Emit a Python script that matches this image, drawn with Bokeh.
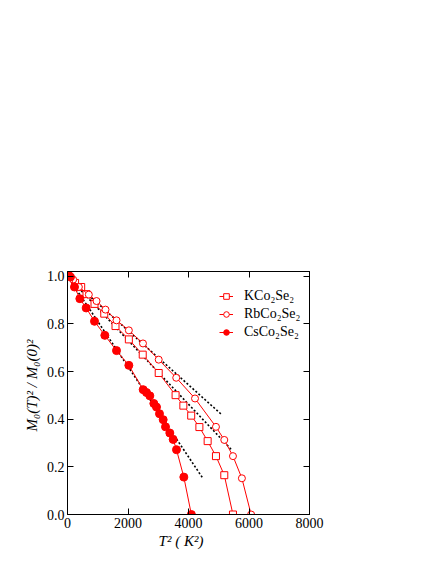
from bokeh.plotting import figure
from bokeh.models import LinearAxis, FixedTicker, Range1d, Legend, LegendItem
from bokeh.embed import file_html
from bokeh.resources import INLINE

# ---- data ----
k_x = [0, 250, 452, 628, 893, 1215, 1587, 2028, 2487, 3015, 3573, 3830, 4089, 4360, 4633, 4908, 5183, 5470]
k_y = [1.005, 0.972, 0.955, 0.925, 0.884, 0.843, 0.791, 0.735, 0.671, 0.594, 0.501, 0.457, 0.415, 0.367, 0.308, 0.245, 0.165, 0.0]

rb_x = [0, 187, 375, 705, 960, 1256, 1620, 2028, 2495, 3015, 3595, 4215, 4908, 5183, 5470, 5765, 6070]
rb_y = [1.0, 0.986, 0.955, 0.923, 0.896, 0.86, 0.815, 0.773, 0.718, 0.65, 0.574, 0.487, 0.368, 0.313, 0.245, 0.152, 0.0]

cs_x = [10, 99, 231, 408, 617, 893, 1234, 1620, 2028, 2502, 2612, 2722, 2854, 2942, 3041, 3163, 3240, 3383, 3493, 3603, 3846, 4095]
cs_y = [1.016, 0.997, 0.955, 0.906, 0.867, 0.811, 0.752, 0.688, 0.626, 0.524, 0.512, 0.498, 0.466, 0.451, 0.423, 0.398, 0.368, 0.342, 0.315, 0.272, 0.157, 0.0]

# linear T^2 fits (start, end)
fit_k_x = [0, 5444]
fit_k_y = [1.0, 0.269]
fit_rb_x = [0, 5091]
fit_rb_y = [1.0, 0.42]
fit_cs_x = [0, 4485]
fit_cs_y = [1.0, 0.150]

x_ticks = [0, 2000, 4000, 6000, 8000]
y_ticks = [0.0, 0.2, 0.4, 0.6, 0.8, 1.0]

labels = ["KCo\u2082Se\u2082", "RbCo\u2082Se\u2082", "CsCo\u2082Se\u2082"]

FONT = "Liberation Serif"

p = figure(frame_width=242, frame_height=243,
           min_border_left=67, min_border_top=271, min_border_bottom=42, min_border_right=110,
           x_range=Range1d(0, 8000), y_range=Range1d(0, 1.02),
           output_backend="svg", toolbar_location=None,
           x_axis_label="T\u00b2 ( K\u00b2)\u2003",
           y_axis_label="\u2003M\u2080(T)\u00b2 / M\u2080(0)\u00b2")

p.xgrid.visible = False
p.ygrid.visible = False
p.outline_line_color = "black"
p.outline_line_width = 1
p.background_fill_color = "white"
p.border_fill_color = "white"

def style_axis(ax, ticks, show_labels=True):
    ax.ticker = FixedTicker(ticks=ticks)
    ax.major_tick_in = 6
    ax.major_tick_out = 0
    ax.minor_tick_in = 0
    ax.minor_tick_out = 0
    ax.axis_line_color = "black"
    ax.major_tick_line_color = "black"
    ax.major_label_text_font = FONT
    ax.major_label_text_font_size = "14px"
    ax.major_label_text_color = "black"
    ax.axis_label_text_font = FONT
    ax.axis_label_text_font_size = "15px"
    ax.axis_label_text_font_style = "italic"
    ax.axis_label_text_color = "black"
    if not show_labels:
        ax.major_label_overrides = {t: "" for t in ticks}

xa = p.xaxis[0]
ya = p.yaxis[0]
style_axis(xa, x_ticks)
style_axis(ya, y_ticks)
xa.major_label_standoff = 3
xa.axis_label_standoff = 2
ya.major_label_standoff = 3
ya.axis_label_standoff = 4
ya.major_label_overrides = {t: f"{t:.1f}" for t in y_ticks}

top = LinearAxis()
style_axis(top, x_ticks, show_labels=False)
p.add_layout(top, "above")
right = LinearAxis()
style_axis(right, y_ticks, show_labels=False)
p.add_layout(right, "right")

red = "#ff0000"

# fit lines
for fx, fy in [(fit_k_x, fit_k_y), (fit_rb_x, fit_rb_y), (fit_cs_x, fit_cs_y)]:
    p.line(fx, fy, line_color="black", line_width=1.6, line_dash="2 2")

l1 = p.line(k_x, k_y, line_color=red, line_width=1)
m1 = p.scatter(k_x, k_y, marker="square", size=7, line_color=red, fill_color="white", line_width=1)
l2 = p.line(rb_x, rb_y, line_color=red, line_width=1)
m2 = p.scatter(rb_x, rb_y, marker="circle", size=7, line_color=red, fill_color="white", line_width=1)
l3 = p.line(cs_x, cs_y, line_color=red, line_width=1)
m3 = p.scatter(cs_x, cs_y, marker="circle", size=8, line_color=red, fill_color=red, line_width=1)

legend = Legend(items=[LegendItem(label=labels[0], renderers=[l1, m1]),
                       LegendItem(label=labels[1], renderers=[l2, m2]),
                       LegendItem(label=labels[2], renderers=[l3, m3])],
                location=(152, 173))
legend.padding = 0
legend.margin = 0
legend.spacing = 0
legend.glyph_width = 14
legend.glyph_height = 18
legend.label_height = 18
legend.label_standoff = 11
legend.border_line_color = None
legend.background_fill_alpha = 0
legend.label_text_font = FONT
legend.label_text_font_size = "14px"
legend.label_text_color = "black"
p.add_layout(legend, "center")

open("out.html", "w").write(file_html(p, INLINE))
